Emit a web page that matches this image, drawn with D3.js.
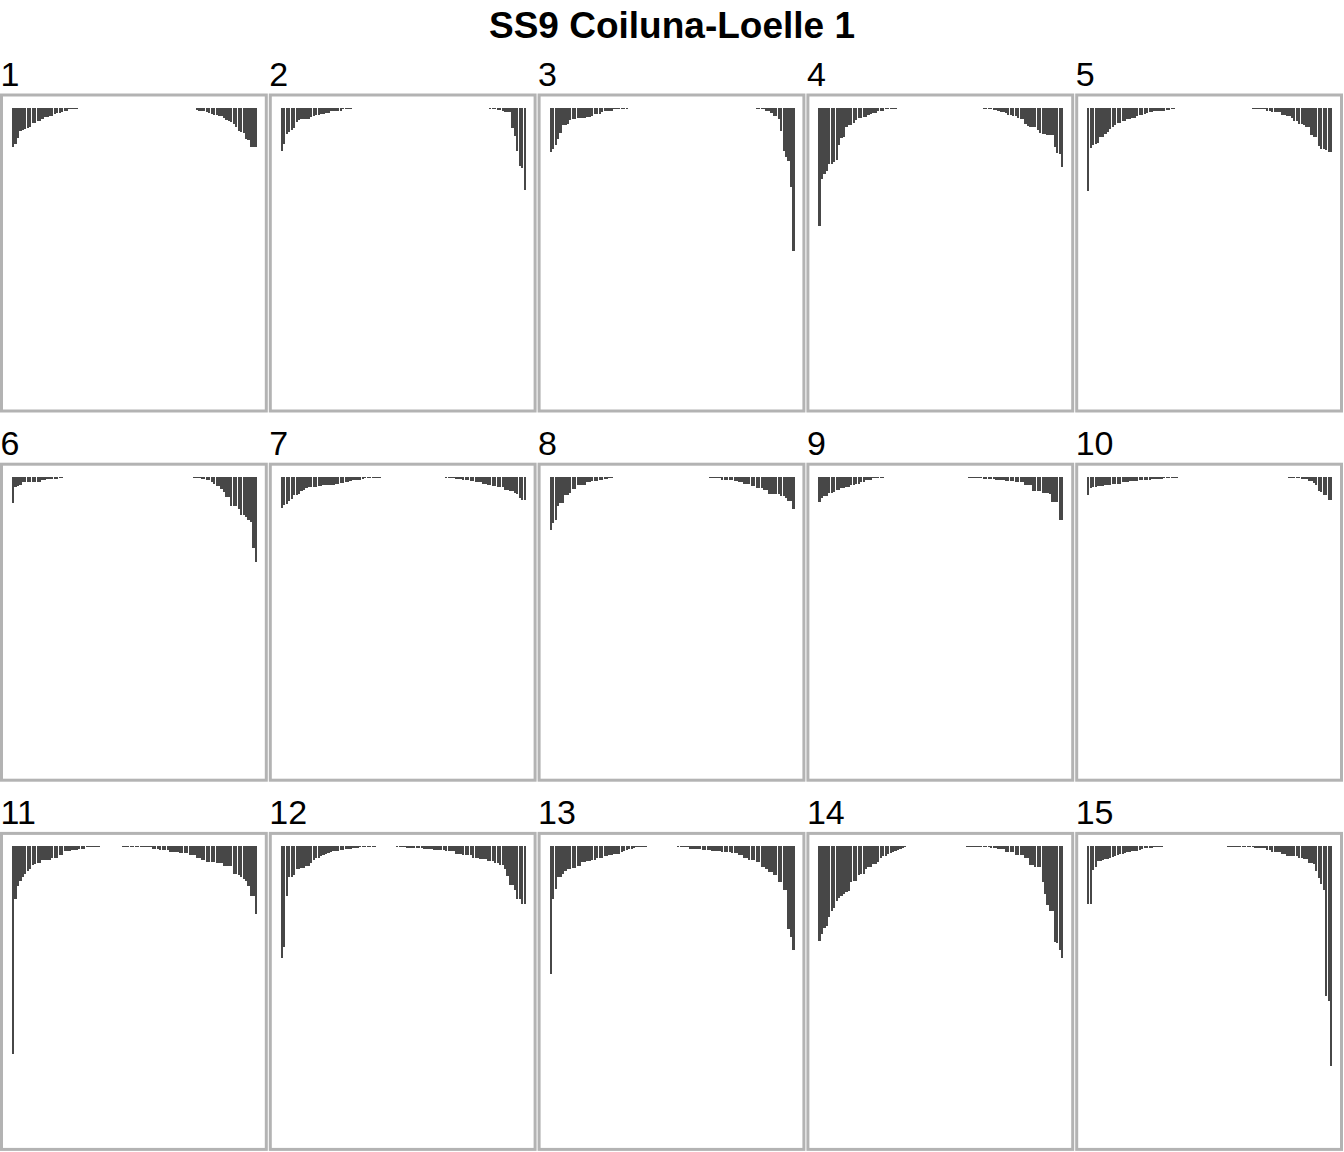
<!DOCTYPE html>
<html><head><meta charset="utf-8">
<script src="https://cdn.jsdelivr.net/npm/d3@7/dist/d3.min.js"></script>
<style>html,body{margin:0;padding:0;background:#fff;}svg{display:block;}</style>
</head><body>
<div id="chart"></div>
<script>
// ---------- data ----------
const chartTitle = "SS9 Coiluna-Loelle 1";
const panelLabels = ["1","2","3","4","5","6","7","8","9","10","11","12","13","14","15"];
const binLabels = d3.range(1, 101); // 100 ordered bins per panel

const p1 = [39,36,30,23,22,21,20,19,15,15,13,13,11,9,9,8,8,6,5.5,5,4.3,3.5,3,1.3,1.3,1,1,0.4,0.3,
  0,0,0,0,0,0,0,0,0,0, 0,0,0,0,0,0,0,0,0,0, 0,0,0,0,0,0,0,0,0,0, 0,0,0,0,0,0,0,0,0,0, 0,0,0,0,0,
  0.3,2.5,3,3,3.7,4.7,5.5,6,7,7.5,8.3,8.5,10,12,13,14,16,19,23,24,25,31,32,39,39,39];
const p2 = [43,36,26,24,22,20,14,12,11,11,11,11,9,8,7,7,6,6,5,5,3.7,3,3,3,3,1.7,1.7,1,1,0.7,0.7,0.7,0.3,
  0,0,0,0,0,0,0,0,0,0, 0,0,0,0,0,0,0,0,0,0, 0,0,0,0,0,0,0,0,0,0, 0,0,0,0,0,0,0,0,0,0, 0,0,0,0,0,0,0,0,0,0, 0,
  0.3,1.5,1.7,1.7,2.3,2.3,3.3,4,4.5,4.7,20,28,43,58,60,82];
const p3 = [44,41,37,31,25,17,17,16,12,11,11,10,10,10,10,9,9,8,6.7,6,6,4,3.3,3,3,3,1.7,1.7,1.7,1.7,1,1,0.7,0.7,0.7,0.7,0.7,
  0,0,0,0,0,0,0,0,0,0, 0,0,0,0,0,0,0,0,0,0, 0,0,0,0,0,0,0,0,0,0, 0,0,0,0,0,0,0,0,0,0, 0,0,
  0.5,0.5,0.7,0.7,0.7,1,1,1.7,1.7,3,3,5.7,8,8,11,23,43,49,53,79,143];
const p4 = [118,71,66,63,56,56,54,52,37,30,29,19,17,17,15,12,10,10,9,9,7.7,6.3,5,5,3.7,3.7,3,1.7,1.7,1,1,1,0.3,0.3,
  0,0,0,0,0,0,0,0,0,0, 0,0,0,0,0,0,0,0,0,0, 0,0,0,0,0,0,0,0,
  0.3,0.7,0.7,0.7,0.7,1,1,1.7,1.7,2.3,2.3,3.7,4.3,4.3,5.7,7,7,8.3,8.3,10,11,11,16,18,19,19,19,22,25,26,26,27,27,27,39,45,46,59];
const p5 = [83,40,37,36,35,29,29,26,24,21,19,17,15,15,13,13,11,11,10,10,8.3,7.3,7,6,5.5,4.7,4,3.7,3.3,3.3,3,3,2.3,2,1.3,1,
  0,0,0,0,0,0,0,0,0,0, 0,0,0,0,0,0,0,0,0,0, 0,0,0,0,0,0,0,0,0,0,
  0.3,1,1,1,1,1.7,1.7,3,3,4,4,4.7,4.7,7,7,8.3,8.3,10,13,13,16,16,17,19,19,27,29,29,38,41,41,42,44,44];
const p6 = [26,10,9.3,7.7,5.3,5.3,5.3,5.3,5.3,5.3,4.7,4.7,3.3,3.3,2.3,2.3,1.7,1.7,1.7,1,1,0.5,0.5,0.5,0.5,0.3,0.3,0.3,0.3,0.3,0.3,
  0,0,0,0,0,0,0,0,0,0, 0,0,0,0,0,0,0,0,0,0, 0,0,0,0,0,0,0,0,0,0, 0,0,0,0,0,0,0,0,0,0, 0,0,0,
  1,1,1,2,2,3.3,3.3,4.7,6.7,9.3,9.3,12,14.7,20,20,29,29,29,32,38,38,40,43,45,71,85];
const p7 = [31,28,27,24,22,18,17.7,16.7,14.3,12.7,11.3,10,10,10,10,9.3,9.3,8.3,8.3,8.3,7.7,7.7,6.7,6.7,5.7,5.7,4.7,4.7,4,2.7,2.7,2.7,2.7,2,1,1,1,1,1,1,1,0.3,0.3,0.3,0.3,0.3,0.3,
  0,0,0,0,0,0,0,0,0,0, 0,0,0,0,0,0,0,
  0.3,0.3,0.3,1,1,1,1,1.7,1.7,1.7,2.7,2.7,2.7,3.7,3.7,5,5,5,6.7,6.7,7.7,7.7,9,9,10,10,10,12.7,12.7,14.3,14.3,16,17.3,20.7,23,23];
const p8 = [53,46,43,29,26,26,18,18,16,12.3,12.3,8.3,8.3,7.7,7.7,5,5,4,4,4,3,3,2,2,1,1,0.3,0.3,
  0,0,0,0,0,0,0,0,0,0, 0,0,0,0,0,0,0,0,0,0, 0,0,0,0,0,0,0,0,0,0, 0,0,0,
  0.3,0.3,0.3,0.3,1,1,1,1,1,2.7,2.7,2.7,2.7,2.7,4,4,5.3,5.3,7.3,7.3,7.3,9.3,9.3,11.3,11.3,11.3,13.3,13.3,17.3,17.3,17.3,17.3,17.3,19.3,19.3,21,24,24,32];
const p9 = [24.8,20.7,19,19,16.5,16.5,14.8,13,13,11.4,11.4,9.6,9.6,8.3,8.3,6.9,6.9,4.8,4.8,2.8,2.8,2.8,1.4,1.4,1.4,1.4,1.4,
  0,0,0,0,0,0,0,0,0,0, 0,0,0,0,0,0,0,0,0,0, 0,0,0,0,0,0,0,0,0,0, 0,0,
  0.3,0.3,1,1,1,1,1,1,2,2,2,2,2,3,3,3,3,4,4,4,4,5.5,5.5,5.5,5.5,8.5,8.5,8.5,14.5,14.5,14.5,14.5,16,16,16,17,24.8,24.8,24.8,43,43];
const p10 = [18.3,11.4,9.6,9.6,8.6,8.6,8.6,7.6,7.6,7.6,6.9,6.9,6.9,6.9,5.5,5.5,5.5,4.5,4.5,4.5,4.5,3.4,3.4,3.4,3.4,3.4,2,2,2,2,2,1,1,1,1,1,1,0.3,0.3,0.3,0.3,
  0,0,0,0,0,0,0,0,0,0, 0,0,0,0,0,0,0,0,0,0, 0,0,0,0,0,0,0,0,0,0, 0,0,0,0,0,0,
  0.3,0.3,0.3,0.3,0.3,1,1,1,1,1,2.4,2.4,2.4,4,4,6,8.5,13.8,15.5,18.3,18.3,23.4,23.4];
const p11 = [208,53,40,35,31,28,25,23,19,18,16.5,16.5,14,14,14,14,12,12,12,9.3,9.3,5.2,5.2,5.2,3.8,3.8,3.8,2.4,2.4,2.4,1,1,1,1,1,1,
  0,0,0,0,0,0,0,0,0,
  0.5,0.5,0.5,0.5,0.5,1,1,1,1,1,1,1,2.4,2.4,2.4,3.8,3.8,3.8,3.8,5.9,5.9,5.9,5.9,7.2,7.2,7.2,7.2,9.3,9.3,9.3,11.4,11.4,13.8,13.8,15.5,15.5,15.5,15.5,17.2,17.2,17.2,20.3,20.3,20.3,20.3,27.5,27.5,29,31,32.7,35,39.6,50,50,68];
const p12 = [112,101,50,31,31,28.6,23,23,21.7,21.7,20.3,20.3,16.5,14,12,12,9.6,9,7.6,6.5,5.9,5,4.5,4.5,3.8,3.8,2.8,2.8,2.4,2,2,1.5,1,1,1,1,1,1,0.5,
  0,0,0,0,0,0,0,0,
  0.5,0.5,0.5,0.5,1.7,1.7,1.7,1.7,1.7,1.7,1.7,2.8,2.8,2.8,2.8,3.8,3.8,3.8,3.8,3.8,5.2,5.2,5.2,5.2,7.9,7.9,7.9,9.3,9.3,9.3,9.3,11.4,11.4,11.4,12.7,12.7,12.7,14.8,14.8,14.8,17.2,17.2,19,19,23,30,39,39,43.7,53,53,57.5,58];
const p13 = [128,52.7,43,31,31,28,24.8,22.4,22.4,21.7,21.7,20,20,16.2,16.2,14.8,14.8,13.8,13.8,12,12,12,10.3,10.3,8.6,8.6,7.9,7.9,7.9,5.9,5,4.1,3,2.4,1.5,1,1,1,1,1,
  0,0,0,0,0,0,0,0,0,0,0,0,
  0.5,1,1,1,1,2.4,2.4,2.4,2.4,2.4,3.4,3.4,3.4,3.4,4.5,4.5,4.5,4.5,5.9,5.9,5.9,5.9,6.9,6.9,6.9,8.6,8.6,11.4,11.4,13.8,13.8,13.8,16.2,16.2,20.7,20.7,22.4,25.8,25.8,28.6,28.6,35.5,35.5,44,44,83,91,104];
const p14 = [95,88,81.6,80,70.6,64.4,62,54.4,51.7,50,48.2,45.8,44.8,35.5,34.4,34.4,29.3,27.5,27.5,22.4,20.7,20.7,17.9,17.9,15.5,12,10,9.6,8,6.9,6,4.5,3.5,2.5,1.7,1,
  0,0,0,0,0,0,0,0,0,0, 0,0,0,0,0,0,0,0,0,0, 0,0,0,0,
  0.5,0.5,0.5,0.7,0.7,0.7,0.7,0.7,0.7,0.7,1.7,1.7,1.7,2.8,2.8,2.8,5.9,5.9,5.9,5.9,9.3,9.3,9.3,9.3,11.4,11.4,19,19,20.7,20.7,20.7,35.5,48.2,58.5,65,65,96,97,104,112];
const p15 = [58,58,24.3,21,15,15,14.3,13.3,12.5,11.7,10.8,10,9,8.3,7.5,6.7,6,5.7,5.3,5,4.5,4,3,2.3,2,1.7,1.7,1.2,0.7,0.7,0.5,0.3,
  0,0,0,0,0,0,0,0,0,0, 0,0,0,0,0,0,0,0,0,0, 0,0,0,0,0,
  0.7,0.7,0.7,0.7,0.7,1,1,1,1,1,1,1.7,1.7,2.3,2.3,2.3,4.3,4.3,6,6,6,6,7.7,7.7,10,10,10,10,10,11.7,11.7,13.3,13.3,16.7,16.7,18.3,25,32.3,38.3,44.3,150,155,220];

const panelValues = [p1,p2,p3,p4,p5,p6,p7,p8,p9,p10,p11,p12,p13,p14,p15];
const yMax = 300;

// ---------- layout ----------
const W = 1344, H = 1152;
const nCols = 5;
const colW = W / nCols;
const rowTop0 = 93.5, rowStep = 369.2;
const panelOuterH = 319, stroke = 3;
const barPadL = 12, barPadR = 11.8, barTopOff = 14.2;
const barColor = "#474747", borderColor = "#b3b3b3";
const font = "'Liberation Sans', Arial, Helvetica, sans-serif";

const svg = d3.select("#chart").append("svg")
  .attr("width", W).attr("height", H)
  .style("background", "#fff");

svg.append("text")
  .attr("x", W / 2).attr("y", 38)
  .attr("text-anchor", "middle")
  .attr("font-family", font).attr("font-weight", "bold").attr("font-size", 37)
  .attr("fill", "#000")
  .text(chartTitle);

const y = d3.scaleLinear().domain([0, yMax]).range([0, 300]);

panelValues.forEach((vals, k) => {
  const c = k % nCols, r = Math.floor(k / nCols);
  const left = c * colW;
  const top = rowTop0 + r * rowStep;
  const g = svg.append("g");

  g.append("rect")
    .attr("x", left + stroke / 2).attr("y", top + stroke / 2)
    .attr("width", colW - stroke - 1).attr("height", panelOuterH - stroke)
    .attr("fill", "#fff").attr("stroke", borderColor).attr("stroke-width", stroke);

  g.append("text")
    .attr("x", left + 0.5).attr("y", top - 7.5)
    .attr("font-family", font).attr("font-size", 34).attr("fill", "#000")
    .text(panelLabels[k]);

  const x = d3.scaleBand()
    .domain(binLabels)
    .range([left + barPadL, left + colW - barPadR])
    .paddingInner(0.1).paddingOuter(0);

  const barTop = top + barTopOff;
  g.selectAll("rect.bar")
    .data(vals.map((v, i) => ({bin: binLabels[i], v})).filter(d => d.v > 0))
    .join("rect")
    .attr("class", "bar")
    .attr("x", d => x(d.bin))
    .attr("width", x.bandwidth())
    .attr("y", barTop)
    .attr("height", d => y(d.v))
    .attr("fill", barColor)
    .attr("shape-rendering", "crispEdges");
});
</script>
</body></html>
